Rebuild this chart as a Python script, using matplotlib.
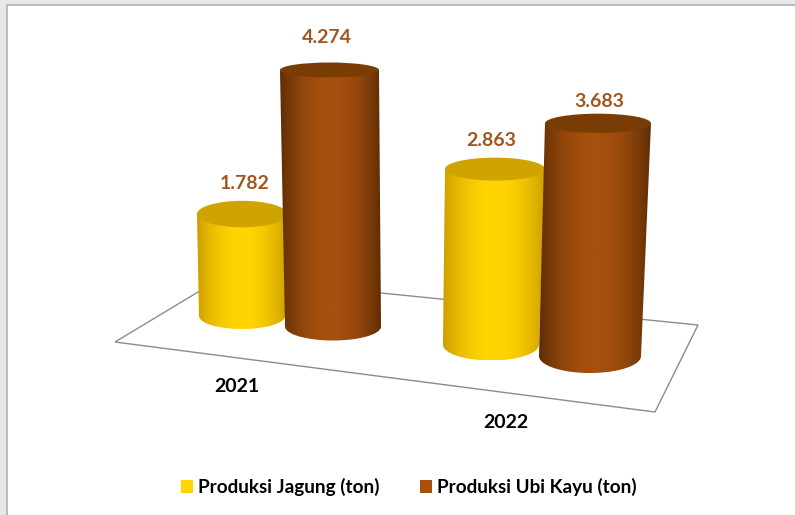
import numpy as np
import matplotlib
matplotlib.use('Agg')
import matplotlib.pyplot as plt
from matplotlib.colors import LinearSegmentedColormap
from matplotlib.patches import Polygon, Rectangle, Ellipse, Patch
from matplotlib.path import Path

years = ['2021', '2022']
jagung = [1782, 2863]
ubi_kayu = [4274, 3683]
series_names = ['Produksi Jagung (ton)', 'Produksi Ubi Kayu (ton)']

plt.rcParams['font.family'] = ['Lato', 'DejaVu Sans']

# warna tiap seri: tepi, tengah, tutup
yellow = ['#cb9c00', '#ffd500', '#cfa300']
brown = ['#5c2c04', '#a6500e', '#7a3c05']

# kanvas dalam satuan piksel gambar
fig = plt.figure(figsize=(7.95, 5.15), dpi=100)
ax = fig.add_axes([0, 0, 1, 1])
ax.set_xlim(0, 795)
ax.set_ylim(515, 0)
ax.axis('off')

# bingkai abu-abu di kiri dan atas
ax.add_patch(Rectangle((0, 0), 795, 515, fc='#e6e8ea', ec='none', zorder=0))
ax.add_patch(Rectangle((7, 5), 800, 520, fc='white', ec='#b2b2b2', lw=1.2, zorder=0.5))

# lantai grafik
ax.add_patch(Polygon([(115, 342), (655, 412), (698, 325), (223, 277)], closed=True,
                     fc='white', ec='#8c8c8c', lw=1, zorder=1))

# geometri silinder, urutan: jagung 2021, ubi 2021, jagung 2022, ubi 2022
slots = [0, 1, 2.736, 3.824]
base_hw = [43, 48, 48, 51]
top_hw = [45, 49.5, 50, 53]
top_shift = [0, -3.5, 4, 8]
label_dx = [3, -2.5, -4, 1]
label_dy = [31, 33, 29, 22]


def cylinder(i, value, colors):
    # posisi dasar mengikuti perspektif lantai, tinggi dari nilai
    xb = 242 + 91 * slots[i]
    d = xb - 242
    yb = 316 + 0.115 * d
    ry_b = 13 + 0.0115 * d
    h = value * (0.0561 + 6.2e-7 * value + 1.38e-5 * d)
    yt = yb - h
    xt = xb + top_shift[i]
    ry_t = 7.5 + (yt - 70) * 0.04

    t = np.linspace(0, np.pi, 60)
    left = xt - top_hw[i]
    right = xt + top_hw[i]
    verts = [(left, yt), (xb - base_hw[i], yb)]
    verts += [(xb - base_hw[i] * np.cos(a), yb + ry_b * np.sin(a)) for a in t]
    verts += [(right, yt), (left, yt)]
    path = Path(verts)

    cmap = LinearSegmentedColormap.from_list('c', [colors[0], colors[1]])
    grad = np.sin(np.pi * np.linspace(0, 1, 256))[None, :] ** 0.8
    x0 = min(left, xb - base_hw[i])
    x1 = max(right, xb + base_hw[i])
    z = 2 + i
    im = ax.imshow(grad, cmap=cmap, extent=[x0, x1, yb + ry_b, yt], aspect='auto', zorder=z)
    im.set_clip_path(path, transform=ax.transData)
    ax.add_patch(Ellipse((xt, yt), 2 * top_hw[i], 2 * ry_t, fc=colors[2], ec='none', zorder=z + 0.1))
    return xt, yt


values = [jagung[0], ubi_kayu[0], jagung[1], ubi_kayu[1]]
palette = [yellow, brown, yellow, brown]
for i in range(4):
    xt, yt = cylinder(i, values[i], palette[i])
    label = f'{values[i]:,}'.replace(',', '.')
    ax.text(xt + label_dx[i], yt - label_dy[i], label, color='#a0571f', fontsize=14, fontweight='bold',
            ha='center', va='center', zorder=10)

ax.text(237, 387, years[0], fontsize=14, fontweight='bold', color='black', ha='center', va='center')
ax.text(506, 423, years[1], fontsize=14, fontweight='bold', color='black', ha='center', va='center')

handles = [Patch(fc=yellow[1], ec='none', label=series_names[0]),
           Patch(fc=brown[1], ec='none', label=series_names[1])]
ax.legend(handles=handles, ncol=2, frameon=False, loc='center',
          bbox_to_anchor=(409 / 795, 1 - 487 / 515), handlelength=0.63, handleheight=0.63,
          handletextpad=0.26, columnspacing=2.17, labelcolor='black',
          prop={'weight': 'bold', 'size': 13.6})

fig.savefig('out.png', dpi=100)
